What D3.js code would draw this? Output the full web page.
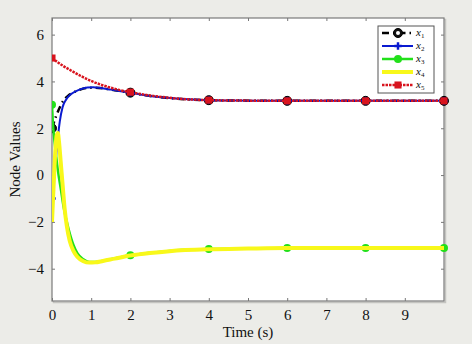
<!DOCTYPE html>
<html>
<head>
<meta charset="utf-8">
<script src="https://cdn.jsdelivr.net/npm/d3@7"></script>
<style>
  body { margin: 0; background: #ececE8; }
  svg { display: block; }
  text { font-family: "Liberation Serif", "DejaVu Serif", serif; fill: #111; }
</style>
</head>
<body>
<div id="plot_area"></div>
<script>
// Set SVG width, height and plot box
const w = 472;
const h = 344;
const padLeft = 52, padRight = 444, padTop = 18, padBottom = 301;

// time samples and node values
const t1 = [0, 0.1, 0.2, 0.3, 0.42, 0.54, 0.7, 0.9, 1.1, 1.4, 1.7, 2, 2.5, 3, 4, 5, 6, 8, 10];
const x1 = [2.0, 2.5, 2.9, 3.2, 3.4, 3.52, 3.64, 3.72, 3.73, 3.68, 3.6, 3.52, 3.38, 3.29, 3.2, 3.18, 3.17, 3.17, 3.17];

const t2 = [0, 0.05, 0.1, 0.15, 0.2, 0.27, 0.35, 0.48, 0.7, 0.9, 1.05, 1.2, 1.5, 2, 2.5, 3, 4, 5, 6, 8, 10];
const x2 = [-1.0, -0.2, 0.75, 1.6, 2.3, 2.9, 3.2, 3.45, 3.65, 3.74, 3.75, 3.73, 3.65, 3.52, 3.38, 3.29, 3.2, 3.18, 3.17, 3.17, 3.17];

const t3 = [0, 0.02, 0.06, 0.1, 0.15, 0.23, 0.3, 0.43, 0.55, 0.65, 0.8, 0.95, 1.1, 1.3, 1.6, 2, 2.5, 3, 4, 5, 6, 8, 10];
const x3 = [3.0, 2.3, 1.5, 0.9, 0.2, -0.65, -1.4, -2.35, -3.0, -3.35, -3.6, -3.71, -3.71, -3.66, -3.56, -3.43, -3.32, -3.24, -3.16, -3.13, -3.12, -3.12, -3.12];

const t4 = [0, 0.04, 0.08, 0.12, 0.15, 0.18, 0.22, 0.27, 0.32, 0.38, 0.45, 0.55, 0.65, 0.8, 0.95, 1.1, 1.3, 1.6, 2, 2.5, 3, 4, 5, 6, 8, 10];
const x4 = [-2.0, -0.5, 0.9, 1.7, 1.8, 1.4, 0.6, -0.4, -1.4, -2.2, -2.8, -3.25, -3.5, -3.68, -3.74, -3.73, -3.67, -3.57, -3.44, -3.33, -3.25, -3.17, -3.14, -3.12, -3.12, -3.12];

const t5 = [0, 0.25, 0.5, 0.75, 1, 1.25, 1.5, 1.75, 2, 2.5, 3, 4, 5, 6, 8, 10];
const x5 = [5.0, 4.7, 4.45, 4.22, 4.02, 3.86, 3.73, 3.62, 3.54, 3.4, 3.3, 3.2, 3.18, 3.17, 3.17, 3.17];

const markerTimes = [0, 2, 4, 6, 8, 10];
const xTicks = [0, 1, 2, 3, 4, 5, 6, 7, 8, 9];
const yTicks = [-4, -2, 0, 2, 4, 6];
const legendLabels = ['1', '2', '3', '4', '5'];

const xScale = d3.scaleLinear().domain([0, 10]).range([padLeft, padRight]);
const yScale = d3.scaleLinear().domain([-5.38, 6.71]).range([padBottom, padTop]);

const svg = d3.select('#plot_area')
  .append('svg')
  .attr('width', w)
  .attr('height', h);

svg.append('rect').attr('width', w).attr('height', h).attr('fill', '#ececE8');

// plot box with a light shadow
svg.append('rect')
  .attr('x', padLeft + 1.5).attr('y', padTop + 1.5)
  .attr('width', padRight - padLeft).attr('height', padBottom - padTop)
  .attr('fill', 'none').attr('stroke', '#c4c4c0').attr('stroke-width', 1.5);
svg.append('rect')
  .attr('x', padLeft).attr('y', padTop)
  .attr('width', padRight - padLeft).attr('height', padBottom - padTop)
  .attr('fill', '#fff');

svg.append('clipPath').attr('id', 'clip')
  .append('rect').attr('x', padLeft).attr('y', padTop - 6)
  .attr('width', padRight - padLeft + 6).attr('height', padBottom - padTop + 12);

// Axes (ticks pointing inward, mirrored on top and right)
const axisStyle = g => {
  g.select('.domain').remove();
  g.selectAll('line').attr('stroke', '#777');
  g.selectAll('text').style('font-family', '"Liberation Serif", serif').style('font-size', '15px').attr('fill', '#111');
};

svg.append('g')
  .attr('transform', 'translate(0,' + padBottom + ')')
  .call(d3.axisBottom(xScale).tickValues(xTicks).tickSize(-3).tickPadding(8).tickFormat(d3.format('d')))
  .call(axisStyle);
svg.append('g')
  .attr('transform', 'translate(0,' + padTop + ')')
  .call(d3.axisTop(xScale).tickValues(xTicks).tickSize(-3).tickFormat(''))
  .call(axisStyle);
svg.append('g')
  .attr('transform', 'translate(' + padLeft + ',0)')
  .call(d3.axisLeft(yScale).tickValues(yTicks).tickSize(-3).tickPadding(8).tickFormat(d3.format('d')))
  .call(axisStyle);
svg.append('g')
  .attr('transform', 'translate(' + padRight + ',0)')
  .call(d3.axisRight(yScale).tickValues(yTicks).tickSize(-3).tickFormat(''))
  .call(axisStyle);

svg.append('rect')
  .attr('x', padLeft).attr('y', padTop)
  .attr('width', padRight - padLeft).attr('height', padBottom - padTop)
  .attr('fill', 'none').attr('stroke', '#7a7a7a').attr('stroke-width', 1.2);

// Series
const series = [
  { t: t1, v: x1, color: '#000', width: 2.5, dash: '7,4,1.5,4', marker: 'circle' },
  { t: t2, v: x2, color: '#0a1ad0', width: 2, dash: null, marker: 'plus' },
  { t: t3, v: x3, color: '#22e01a', width: 2.5, dash: null, marker: 'dot' },
  { t: t4, v: x4, color: '#f8f81a', width: 4, dash: null, marker: null },
  { t: t5, v: x5, color: '#d8141e', width: 2.5, dash: '2.5,1', marker: 'square' }
];

const line = d3.line()
  .x(d => xScale(d[0]))
  .y(d => yScale(d[1]))
  .curve(d3.curveMonotoneX);

const plot = svg.append('g').attr('clip-path', 'url(#clip)');

function drawMarker(g, s, x, y) {
  if (s.marker === 'circle') {
    g.append('circle').attr('cx', x).attr('cy', y).attr('r', 4.5)
      .attr('fill', '#111').attr('stroke', '#000').attr('stroke-width', 1);
    g.append('circle').attr('cx', x).attr('cy', y).attr('r', 2)
      .attr('fill', '#fff');
  } else if (s.marker === 'plus') {
    g.append('path').attr('d', d3.symbol(d3.symbolCross, 30)())
      .attr('transform', 'translate(' + x + ',' + y + ')').attr('fill', s.color);
  } else if (s.marker === 'dot') {
    g.append('circle').attr('cx', x).attr('cy', y).attr('r', 4).attr('fill', s.color);
  } else if (s.marker === 'square') {
    g.append('path').attr('d', d3.symbol(d3.symbolSquare, 50)())
      .attr('transform', 'translate(' + x + ',' + y + ')').attr('fill', s.color);
  }
}

series.forEach(s => {
  const pts = s.t.map((t, i) => [t, s.v[i]]);
  const p = plot.append('path')
    .datum(pts)
    .attr('fill', 'none')
    .attr('stroke', s.color)
    .attr('stroke-width', s.width)
    .attr('d', line);
  if (s.dash) p.attr('stroke-dasharray', s.dash);
  pts.filter(d => markerTimes.includes(d[0])).forEach(d => {
    drawMarker(plot, s, xScale(d[0]), yScale(d[1]));
  });
});

// Axis titles
svg.append('text')
  .attr('x', (padLeft + padRight) / 2).attr('y', 337)
  .attr('text-anchor', 'middle').style('font-size', '15px')
  .text('Time (s)');
svg.append('text')
  .attr('transform', 'translate(20,' + ((padTop + padBottom) / 2) + ') rotate(-90)')
  .attr('text-anchor', 'middle').style('font-size', '15px')
  .text('Node Values');

// Legend
const lg = svg.append('g');
lg.append('rect')
  .attr('x', 378).attr('y', 26).attr('width', 56).attr('height', 67)
  .attr('fill', '#fff').attr('stroke', '#555').attr('stroke-width', 1);
series.forEach((s, i) => {
  const y = 33 + i * 13;
  const l = lg.append('line')
    .attr('x1', 382).attr('x2', 413).attr('y1', y).attr('y2', y)
    .attr('stroke', s.color).attr('stroke-width', s.width);
  if (s.dash) l.attr('stroke-dasharray', s.dash);
  drawMarker(lg, s, 398, y);
  const tx = lg.append('text').attr('x', 416).attr('y', y + 3)
    .style('font-size', '11px').style('font-style', 'italic');
  tx.append('tspan').text('x');
  tx.append('tspan').attr('dy', 1.5).style('font-size', '7px').style('font-style', 'normal').text(legendLabels[i]);
});
</script>
</body>
</html>
